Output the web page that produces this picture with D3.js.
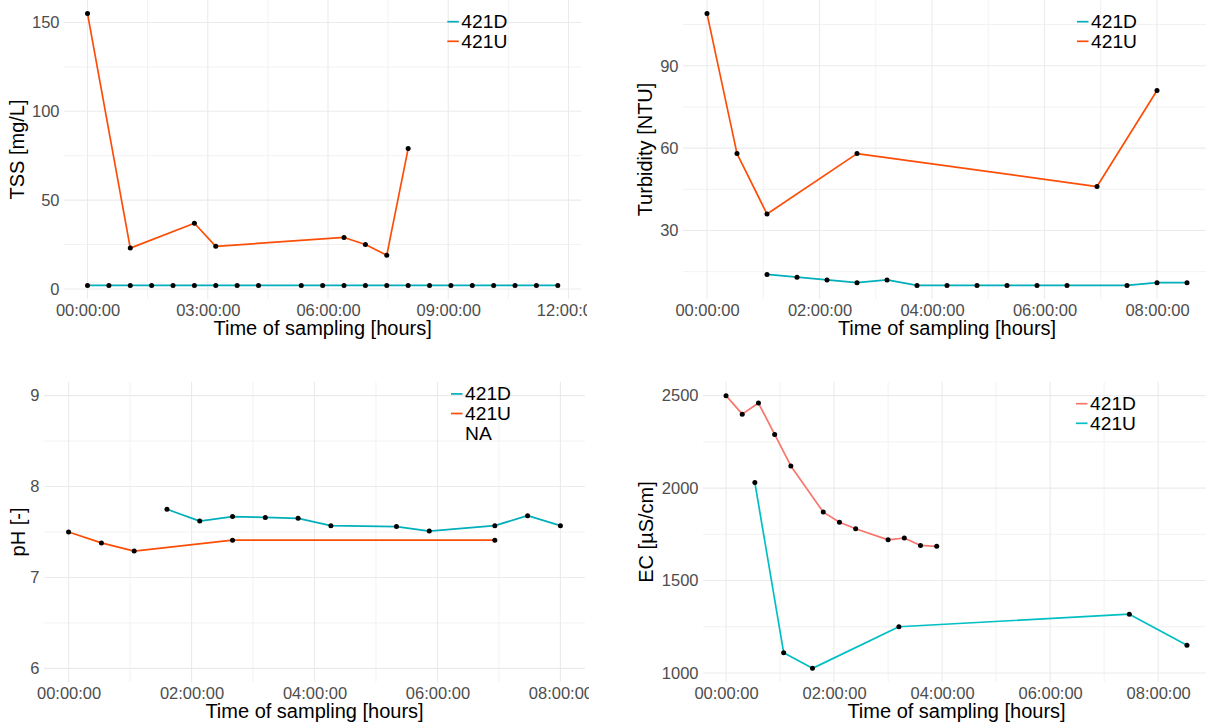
<!DOCTYPE html>
<html>
<head>
<meta charset="utf-8">
<script src="https://cdn.jsdelivr.net/npm/d3@7"></script>
<style>
  body { margin: 0; background: #ffffff; }
  svg { display: block; font-family: "Liberation Sans", Arial, sans-serif; }
</style>
</head>
<body>
<svg id="chart" width="1206" height="725"></svg>
<script>
// ---- data: sampling time in minutes after the first sample ----

// TSS [mg/L]
const tssTimeD = [0, 32, 64, 96, 128, 160, 192, 224, 256, 320, 352, 384, 416, 448, 480, 512, 544, 576, 608, 640, 672, 704];
const tssD     = [2, 2, 2, 2, 2, 2, 2, 2, 2, 2, 2, 2, 2, 2, 2, 2, 2, 2, 2, 2, 2, 2];
const tssTimeU = [0, 64, 160, 192, 384, 416, 448, 480];
const tssU     = [155, 23, 37, 24, 29, 25, 19, 79];

// Turbidity [NTU]
const turbTimeD = [64, 96, 128, 160, 192, 224, 256, 288, 320, 352, 384, 448, 480, 512];
const turbD     = [14, 13, 12, 11, 12, 10, 10, 10, 10, 10, 10, 10, 11, 11];
const turbTimeU = [0, 32, 64, 160, 416, 480];
const turbU     = [109, 58, 36, 58, 46, 81];

// pH [-]
const phTimeD = [96, 128, 160, 192, 224, 256, 320, 352, 416, 448, 480];
const phD     = [7.75, 7.62, 7.67, 7.66, 7.65, 7.57, 7.56, 7.51, 7.57, 7.68, 7.57];
const phTimeU = [0, 32, 64, 160, 416];
const phU     = [7.50, 7.38, 7.29, 7.41, 7.41];

// EC [µS/cm]
const ecTimeD = [0, 18, 36, 54, 72, 108, 126, 144, 180, 198, 216, 234];
const ecD     = [2500, 2400, 2460, 2290, 2120, 1870, 1815, 1780, 1720, 1730, 1690, 1685];
const ecTimeU = [32, 64, 96, 192, 448, 512];
const ecU     = [2030, 1110, 1025, 1250, 1318, 1150];

// ---- axis breaks ----
const xTicks3h   = [0, 180, 360, 540, 720];
const xMinor3h   = [90, 270, 450, 630];
const xTicks2h   = [0, 120, 240, 360, 480];
const xMinor2h   = [60, 180, 300, 420];
const tssYTicks  = [0, 50, 100, 150];
const tssYMinor  = [25, 75, 125];
const turbYTicks = [30, 60, 90];
const turbYMinor = [15, 45, 75, 105];
const phYTicks   = [6, 7, 8, 9];
const phYMinor   = [6.5, 7.5, 8.5];
const phYLimits  = [6, 9];
const ecYTicks   = [1000, 1500, 2000, 2500];
const ecYMinor   = [1250, 1750, 2250];

const seriesNames = ["421D", "421U"];
const phLegend    = ["421D", "421U", "NA"];
const xTitle      = "Time of sampling [hours]";

// colours
const colD = "#00AFBB", colU = "#FC4E07";          // manual palette
const hueD = "#F8766D", hueU = "#00BFC4";          // default hue palette

const fmtHMS = m => {
  const h = Math.floor(m / 60), mm = Math.round(m % 60);
  return String(h).padStart(2, "0") + ":" + String(mm).padStart(2, "0") + ":00";
};
const fmtPlain = d => String(d);
const zip = (t, v) => t.map((d, i) => ({ t: d, v: v[i] }));

const panels = [
  {
    rect: { l: 64, t: 0, r: 581.3, b: 299 }, clip: [0, 587],
    yTitle: "TSS [mg/L]", yTitleX: 24,
    xTicks: xTicks3h, xMinor: xMinor3h, yTicks: tssYTicks, yMinor: tssYMinor,
    series: [
      { name: seriesNames[0], data: zip(tssTimeD, tssD), color: colD },
      { name: seriesNames[1], data: zip(tssTimeU, tssU), color: colU }
    ],
    legend: [{ label: seriesNames[0], color: colD }, { label: seriesNames[1], color: colU }]
  },
  {
    rect: { l: 683, t: 0, r: 1211, b: 299 }, clip: [600, 1206],
    yTitle: "Turbidity [NTU]", yTitleX: 652,
    xTicks: xTicks2h, xMinor: xMinor2h, yTicks: turbYTicks, yMinor: turbYMinor,
    series: [
      { name: seriesNames[0], data: zip(turbTimeD, turbD), color: colD },
      { name: seriesNames[1], data: zip(turbTimeU, turbU), color: colU }
    ],
    legend: [{ label: seriesNames[0], color: colD }, { label: seriesNames[1], color: colU }]
  },
  {
    rect: { l: 44, t: 382, r: 585, b: 682 }, clip: [0, 589],
    yTitle: "pH [-]", yTitleX: 25, yLimits: phYLimits,
    xTicks: xTicks2h, xMinor: xMinor2h, yTicks: phYTicks, yMinor: phYMinor,
    series: [
      { name: seriesNames[0], data: zip(phTimeD, phD), color: colD },
      { name: seriesNames[1], data: zip(phTimeU, phU), color: colU }
    ],
    legend: [{ label: phLegend[0], color: colD }, { label: phLegend[1], color: colU }, { label: phLegend[2], color: null }]
  },
  {
    rect: { l: 703, t: 382, r: 1210, b: 682 }, clip: [600, 1206],
    yTitle: "EC [µS/cm]", yTitleX: 653,
    xTicks: xTicks2h, xMinor: xMinor2h, yTicks: ecYTicks, yMinor: ecYMinor,
    series: [
      { name: seriesNames[0], data: zip(ecTimeD, ecD), color: hueD },
      { name: seriesNames[1], data: zip(ecTimeU, ecU), color: hueU }
    ],
    legend: [{ label: seriesNames[0], color: hueD }, { label: seriesNames[1], color: hueU }]
  }
];

const svg = d3.select("#chart");
svg.append("rect").attr("width", 1206).attr("height", 725).attr("fill", "#ffffff");
const defs = svg.append("defs");

// 5 % padding on each side of a range, as ggplot does
const expand = ([a, b]) => { const p = (b - a) * 0.05; return [a - p, b + p]; };

panels.forEach((p, idx) => {
  const R = p.rect;
  const all = p.series.flatMap(s => s.data);
  const xDom = expand(d3.extent(all, d => d.t));
  const yDom = expand(p.yLimits || d3.extent(all, d => d.v));
  const x = d3.scaleLinear().domain(xDom).range([R.l, R.r]);
  const y = d3.scaleLinear().domain(yDom).range([R.b, R.t]);

  defs.append("clipPath").attr("id", "clip" + idx)
    .append("rect").attr("x", p.clip[0]).attr("y", R.t - 20)
    .attr("width", p.clip[1] - p.clip[0]).attr("height", R.b - R.t + 80);

  const g = svg.append("g").attr("clip-path", `url(#clip${idx})`);

  // grid: minor first, then major
  const grid = g.append("g");
  grid.selectAll(".vmin").data(p.xMinor).join("line")
    .attr("x1", d => x(d)).attr("x2", d => x(d)).attr("y1", R.t).attr("y2", R.b)
    .attr("stroke", "#F2F2F2").attr("stroke-width", 1);
  grid.selectAll(".hmin").data(p.yMinor).join("line")
    .attr("x1", R.l).attr("x2", R.r).attr("y1", d => y(d)).attr("y2", d => y(d))
    .attr("stroke", "#F2F2F2").attr("stroke-width", 1);
  grid.selectAll(".vmaj").data(p.xTicks).join("line")
    .attr("x1", d => x(d)).attr("x2", d => x(d)).attr("y1", R.t).attr("y2", R.b)
    .attr("stroke", "#EBEBEB").attr("stroke-width", 1.1);
  grid.selectAll(".hmaj").data(p.yTicks).join("line")
    .attr("x1", R.l).attr("x2", R.r).attr("y1", d => y(d)).attr("y2", d => y(d))
    .attr("stroke", "#EBEBEB").attr("stroke-width", 1.1);

  // axes (labels only)
  const xAxis = g.append("g").attr("transform", `translate(0,${R.b})`)
    .call(d3.axisBottom(x).tickValues(p.xTicks).tickFormat(fmtHMS).tickSize(0).tickPadding(0));
  xAxis.select(".domain").remove();
  xAxis.selectAll("text").attr("y", 16.5).attr("dy", null)
    .attr("font-size", 16.5).attr("fill", "#4D4D4D").attr("font-family", "Liberation Sans, Arial, sans-serif");

  const yAxis = g.append("g").attr("transform", `translate(${R.l},0)`)
    .call(d3.axisLeft(y).tickValues(p.yTicks).tickFormat(fmtPlain).tickSize(0).tickPadding(4.5));
  yAxis.select(".domain").remove();
  yAxis.selectAll("text").attr("font-size", 16.5).attr("fill", "#4D4D4D")
    .attr("font-family", "Liberation Sans, Arial, sans-serif");

  // axis titles
  g.append("text").attr("x", (R.l + R.r) / 2).attr("y", R.b + 35.5)
    .attr("text-anchor", "middle").attr("font-size", 20).attr("fill", "#000")
    .text(xTitle);
  g.append("text")
    .attr("transform", `translate(${p.yTitleX},${(R.t + R.b) / 2}) rotate(-90)`)
    .attr("text-anchor", "middle").attr("font-size", 20).attr("fill", "#000")
    .text(p.yTitle);

  // series
  const line = d3.line().x(d => x(d.t)).y(d => y(d.v));
  p.series.forEach(s => {
    g.append("path").datum(s.data).attr("d", line)
      .attr("fill", "none").attr("stroke", s.color).attr("stroke-width", 1.7)
      .attr("stroke-linejoin", "round");
  });
  p.series.forEach(s => {
    g.selectAll(null).data(s.data).join("circle")
      .attr("cx", d => x(d.t)).attr("cy", d => y(d.v)).attr("r", 2.5).attr("fill", "#000");
  });

  // legend, centred vertically on a fixed anchor near the top right
  const n = p.legend.length, step = 19.6;
  const base0 = R.t + 38 - (n - 1) * step / 2;
  const lg = g.append("g");
  p.legend.forEach((e, i) => {
    const by = base0 + i * step;
    if (e.color) {
      lg.append("line").attr("x1", R.r - 134).attr("x2", R.r - 122.5)
        .attr("y1", by - 6.5).attr("y2", by - 6.5)
        .attr("stroke", e.color).attr("stroke-width", 1.7);
    }
    // slightly widened glyphs keep the entries compact vertically
    lg.append("text")
      .attr("transform", `translate(${R.r - 120},${by}) scale(1.1,1)`)
      .attr("font-size", 17.5).attr("fill", "#000").text(e.label);
  });
});
</script>
</body>
</html>
